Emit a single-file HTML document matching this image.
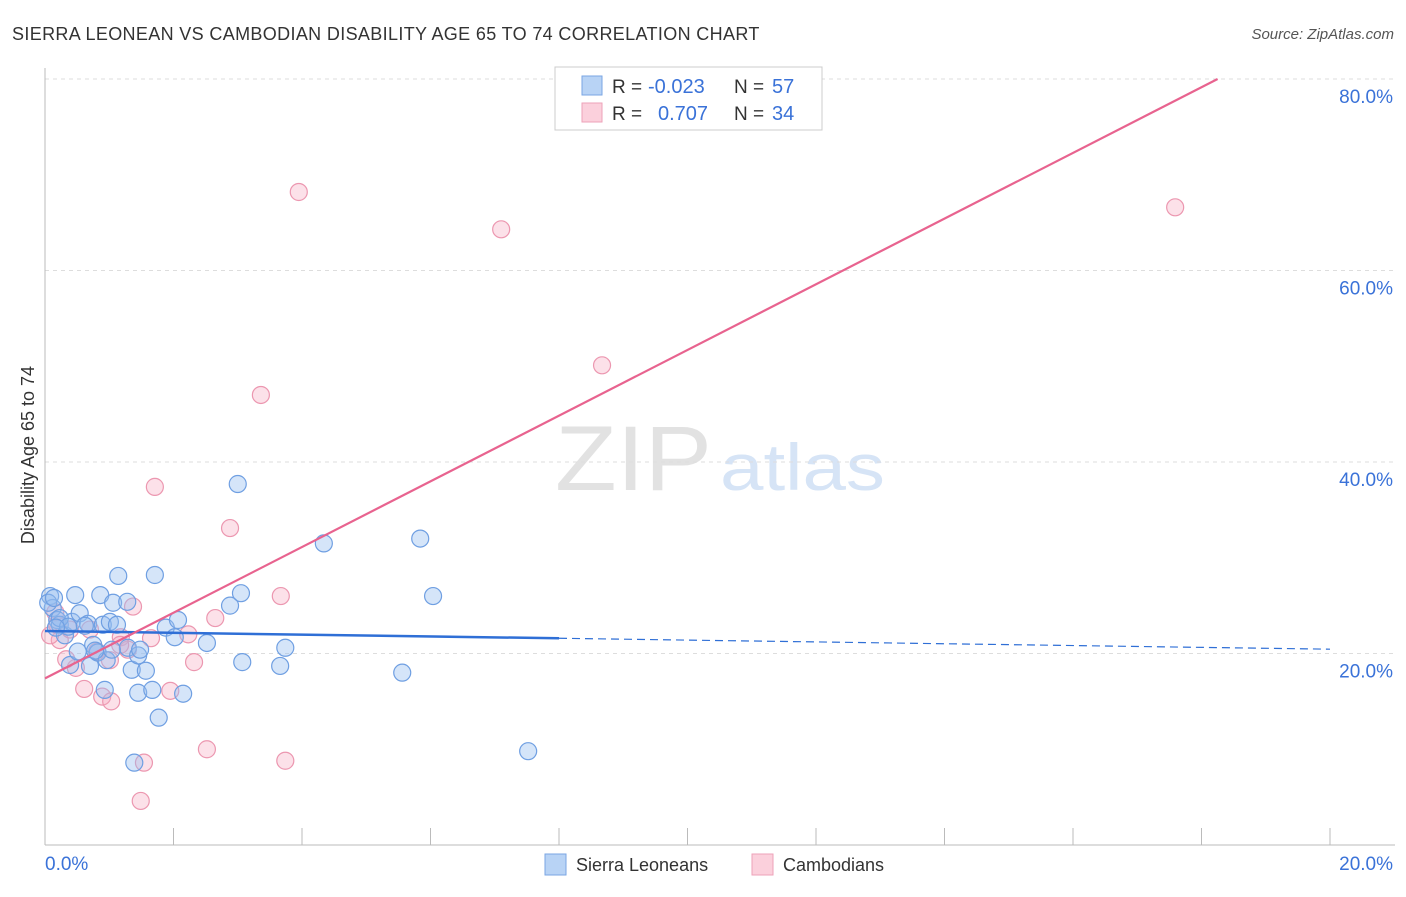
<!DOCTYPE html>
<html><head><meta charset="utf-8"><style>
body{margin:0;background:#fff;font-family:"Liberation Sans",sans-serif}
svg text{font-family:"Liberation Sans",sans-serif}
</style></head><body>
<svg id="c" width="1406" height="892">
<text x="12" y="40" font-size="18" fill="#333" letter-spacing="0.35">SIERRA LEONEAN VS CAMBODIAN DISABILITY AGE 65 TO 74 CORRELATION CHART</text>
<text x="1394" y="39" font-size="15" fill="#555" text-anchor="end" font-style="italic">Source: ZipAtlas.com</text>
<text x="555" y="490" font-size="92" fill="#e2e2e2" font-family="Liberation Serif" textLength="157" lengthAdjust="spacingAndGlyphs">ZIP</text>
<text x="720" y="490" font-size="66" fill="#d6e4f6" textLength="165" lengthAdjust="spacingAndGlyphs">atlas</text>
<g id="grid"></g>
<g id="axes"></g>
<text transform="translate(34,455) rotate(-90)" font-size="18" fill="#333" text-anchor="middle">Disability Age 65 to 74</text>
<g id="pts"></g>
<g id="lines"></g>
<g>
<rect x="555" y="67" width="267" height="63" fill="#fff" stroke="#ccc"/>
<rect x="582" y="76" width="20" height="19" fill="#b8d3f5" stroke="#7aa6e3"/>
<rect x="582" y="103" width="20" height="19" fill="#fbd0dc" stroke="#eea2b8"/>
<text x="612" y="93" font-size="19" fill="#333">R =</text>
<text x="648" y="93" font-size="20" fill="#3a72d8">-0.023</text>
<text x="734" y="93" font-size="19" fill="#333">N =</text>
<text x="772" y="93" font-size="20" fill="#3a72d8">57</text>
<text x="612" y="120" font-size="19" fill="#333">R =</text>
<text x="658" y="120" font-size="20" fill="#3a72d8">0.707</text>
<text x="734" y="120" font-size="19" fill="#333">N =</text>
<text x="772" y="120" font-size="20" fill="#3a72d8">34</text>
</g>
<g>
<rect x="545" y="854" width="21" height="21" fill="#b8d3f5" stroke="#7aa6e3"/>
<text x="576" y="871" font-size="18" fill="#333">Sierra Leoneans</text>
<rect x="752" y="854" width="21" height="21" fill="#fbd0dc" stroke="#eea2b8"/>
<text x="783" y="871" font-size="18" fill="#333">Cambodians</text>
</g>
</svg>
<script>
const blueX=[0.08,0.12,0.19,0.23,0.31,0.39,0.47,0.42,0.54,0.51,0.67,0.70,0.75,0.82,0.86,0.90,0.96,1.01,0.93,1.06,1.14,1.12,1.28,1.29,1.35,1.45,1.48,1.45,1.57,1.67,1.71,1.77,1.88,2.02,2.07,2.15,2.52,2.88,3.00,3.05,3.07,3.66,3.74,4.34,5.56,5.84,6.04,7.52,1.39,0.23,0.36,0.62,0.78,0.05,0.17,1.04,0.14];
const blueY=[26.0,24.75,23.5,23.0,21.9,18.8,26.1,23.3,24.2,20.2,23.1,18.7,20.9,20.1,26.1,23.0,19.3,23.3,16.2,25.3,28.1,23.0,25.4,20.6,18.3,19.8,20.4,15.9,18.2,16.2,28.2,13.3,22.7,21.7,23.5,15.8,21.1,25.0,37.7,26.3,19.1,18.7,20.6,31.5,18.0,32.0,26.0,9.8,8.6,23.7,22.8,22.9,20.3,25.3,22.7,20.4,25.8];
const pinkX=[3.95,7.10,17.59,8.67,3.36,1.71,2.88,3.67,1.37,2.65,2.23,1.65,1.18,2.32,1.29,0.81,0.48,0.61,0.89,1.03,1.95,2.52,3.74,1.54,1.49,0.16,0.23,0.08,0.33,1.01,0.19,0.70,0.39,1.17];
const pinkY=[68.2,64.3,66.6,50.1,47.0,37.4,33.1,26.0,24.9,23.7,22.0,21.6,21.7,19.1,20.4,20.2,18.5,16.3,15.5,15.0,16.1,10.0,8.8,8.6,4.6,24.3,21.4,21.9,19.4,19.3,23.0,22.5,22.5,20.9];
const yTicks=[20,40,60,80];
const xTickLabels=["0.0%","20.0%"];
const blueFit=[22.35,-0.095];
const pinkFit=[17.4,3.43];
const NS="http://www.w3.org/2000/svg";
const X=v=>45+v*64.25, Y=v=>845-v*9.575;
function mk(t,a,p){const e=document.createElementNS(NS,t);for(const k in a)e.setAttribute(k,a[k]);p.appendChild(e);return e;}
const grid=document.getElementById('grid'),axes=document.getElementById('axes'),pts=document.getElementById('pts'),lines=document.getElementById('lines');
yTicks.forEach(t=>{
 const l=mk('line',{x1:45,x2:1395,y1:Y(t),y2:Y(t),stroke:'#ddd','stroke-dasharray':'4,4'},grid);
 
 
 const tx=mk('text',{x:1393,y:Y(t)+24,'font-size':19,fill:'#3a72d8','text-anchor':'end'},grid);
 tx.textContent=t.toFixed(1)+'%';
 
 
});
mk('line',{x1:45,x2:45,y1:68,y2:845,stroke:'#bbb'},axes);
mk('line',{x1:45,x2:1395,y1:845,y2:845,stroke:'#bbb'},axes);
for(let i=0;i<=10;i++){const x=X(i*2);mk('line',{x1:x,x2:x,y1:828,y2:845,stroke:'#bbb'},axes);}
[0,20].forEach((v,i)=>{const t=mk('text',{x:i?1393:45,y:870,'font-size':19,fill:'#3a72d8','text-anchor':i?'end':'start'},axes);t.textContent=xTickLabels[i];
 
 });
pinkX.forEach((x,i)=>{const c=mk('circle',{cx:X(x),cy:Y(pinkY[i]),r:8.5,fill:'rgba(245,170,192,0.35)',stroke:'#ec97b0','stroke-width':1.2},pts);
 
 });
blueX.forEach((x,i)=>{const c=mk('circle',{cx:X(x),cy:Y(blueY[i]),r:8.5,fill:'rgba(150,190,240,0.4)',stroke:'#6f9fe2','stroke-width':1.2},pts);
 
 });
const bl=mk('line',{x1:X(0),y1:Y(blueFit[0]),x2:X(8),y2:Y(blueFit[0]+blueFit[1]*8),stroke:'#2f6fd6','stroke-width':2.5},lines);


const bd=mk('line',{x1:X(8),y1:Y(blueFit[0]+blueFit[1]*8),x2:X(20),y2:Y(blueFit[0]+blueFit[1]*20),stroke:'#2f6fd6','stroke-width':1.2,'stroke-dasharray':'8,5'},lines);


const xe=(80-pinkFit[0])/pinkFit[1];
const pl=mk('line',{x1:X(0),y1:Y(pinkFit[0]),x2:X(xe),y2:Y(80),stroke:'#e8638f','stroke-width':2.2},lines);


</script>
</body></html>
